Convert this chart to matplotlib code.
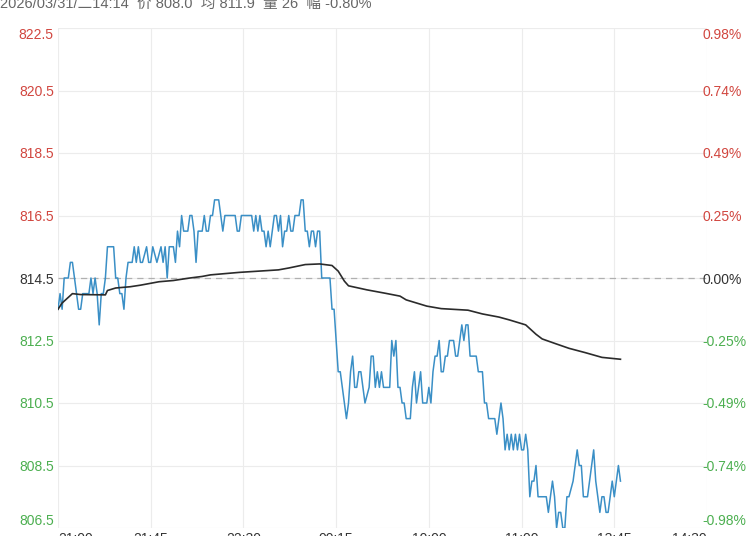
import matplotlib
matplotlib.use('Agg')
import matplotlib.pyplot as plt

plt.rcParams['font.family'] = ['Liberation Sans', 'Noto Sans CJK SC', 'DejaVu Sans']

header = "2026/03/31/二14:14  价 808.0  均 811.9  量 26  幅 -0.80%"
base_price = 814.5

x_tick_pos = [0, 45, 90, 135, 180, 225, 270, 315]
x_tick_labels = ["21:00", "21:45", "22:30", "00:15", "10:00", "11:00", "13:45", "14:30"]

y_ticks = [806.5, 808.5, 810.5, 812.5, 814.5, 816.5, 818.5, 820.5, 822.5]
y_left_labels = ["806.5", "808.5", "810.5", "812.5", "814.5", "816.5", "818.5", "820.5", "822.5"]
y_right_labels = ["-0.98%", "-0.74%", "-0.49%", "-0.25%", "0.00%", "0.25%", "0.49%", "0.74%", "0.98%"]

# last-price line: minute index from 21:00 and price
price_min = [0, 1, 2, 3, 5, 6, 7, 8, 9, 10, 11, 12, 15, 16, 17, 18, 19, 20, 21, 22,
             23, 24, 27, 28, 29, 30, 31, 32, 33, 34, 36, 37, 38, 39, 40, 41, 43, 44, 45, 46,
             48, 50, 51, 52, 53, 54, 56, 57, 58, 59, 60, 61, 63, 64, 65, 66, 67, 68, 70, 71,
             72, 73, 74, 75, 76, 78, 79, 80, 81, 86, 87, 88, 89, 94, 95, 96, 97, 98, 99, 100,
             101, 102, 103, 104, 105, 106, 107, 108, 109, 110, 111, 112, 113, 114, 115, 116, 117, 118, 119, 120,
             121, 122, 123, 124, 125, 126, 127, 128, 132, 133, 134, 135, 136, 137, 138, 139, 140, 141, 142, 143,
             144, 145, 146, 147, 148, 149, 151, 152, 153, 154, 155, 156, 157, 158, 161, 162, 163, 164, 165, 166,
             167, 168, 169, 171, 172, 173, 174, 175, 176, 177, 179, 180, 181, 182, 183, 184, 185, 186, 187, 188,
             189, 190, 192, 193, 194, 195, 196, 197, 198, 199, 200, 203, 204, 206, 207, 208, 209, 212, 213, 214,
             215, 216, 217, 218, 219, 220, 221, 222, 223, 224, 225, 226, 227, 228, 229, 230, 231, 232, 233, 237,
             238, 239, 240, 241, 242, 243, 244, 245, 246, 247, 248, 250, 251, 252, 253, 254, 255, 257, 258, 259,
             260, 261, 262, 263, 264, 265, 266, 267, 268, 269, 270, 271, 272, 273]
price_val = [813.5, 814.0, 813.5, 814.5, 814.5, 815.0, 815.0, 814.5, 814.0, 813.5, 813.5, 814.0, 814.0, 814.5, 814.0, 814.5, 814.0, 813.0, 814.0, 814.0,
             814.5, 815.5, 815.5, 814.5, 814.5, 814.0, 814.0, 813.5, 814.5, 815.0, 815.0, 815.5, 815.0, 815.5, 815.0, 815.0, 815.5, 815.0, 815.0, 815.5,
             815.0, 815.5, 815.0, 815.5, 814.5, 815.5, 815.5, 815.0, 816.0, 815.5, 816.5, 816.0, 816.0, 816.5, 816.5, 816.0, 815.0, 816.0, 816.0, 816.5,
             816.0, 816.0, 816.5, 816.5, 817.0, 817.0, 816.5, 816.0, 816.5, 816.5, 816.0, 816.0, 816.5, 816.5, 816.0, 816.5, 816.0, 816.5, 816.0, 816.0,
             815.5, 816.0, 815.5, 816.0, 816.5, 816.5, 816.0, 816.5, 815.5, 816.0, 816.0, 816.5, 816.0, 816.0, 816.5, 816.5, 816.5, 817.0, 817.0, 816.0,
             816.0, 815.5, 816.0, 816.0, 815.5, 816.0, 816.0, 814.5, 814.5, 813.5, 813.5, 812.5, 811.5, 811.5, 811.0, 810.5, 810.0, 810.5, 811.5, 812.0,
             811.0, 811.0, 811.5, 811.5, 811.0, 810.5, 811.0, 812.0, 812.0, 811.0, 811.5, 811.0, 811.5, 811.0, 811.0, 812.5, 812.0, 812.5, 811.0, 811.0,
             810.5, 810.5, 810.0, 810.0, 811.0, 811.5, 810.5, 811.0, 811.5, 810.5, 810.5, 811.0, 810.5, 811.5, 812.0, 812.0, 812.5, 811.5, 811.5, 812.0,
             812.0, 812.5, 812.5, 812.0, 812.0, 812.5, 813.0, 812.5, 813.0, 813.0, 812.0, 812.0, 811.5, 811.5, 810.5, 810.5, 810.0, 810.0, 809.5, 810.0,
             810.5, 810.0, 809.0, 809.5, 809.0, 809.5, 809.0, 809.5, 809.0, 809.5, 809.0, 809.0, 809.5, 809.0, 807.5, 808.0, 808.0, 808.5, 807.5, 807.5,
             807.0, 807.5, 808.0, 807.5, 806.5, 807.0, 807.0, 806.5, 806.5, 807.5, 807.5, 808.0, 808.5, 809.0, 808.5, 808.5, 807.5, 807.5, 808.0, 808.5,
             809.0, 808.0, 807.5, 807.0, 807.5, 807.5, 807.0, 807.0, 807.5, 808.0, 807.5, 808.0, 808.5, 808.0]

# average-price line
avg_min = [0, 2, 7, 11, 23, 24, 28, 35, 40, 49, 56, 64, 70, 74, 88, 107, 112, 120, 127, 133,
           136, 139, 141, 150, 159, 166, 169, 179, 186, 199, 206, 214, 219, 227, 232, 235, 241, 248, 256, 264, 273]
avg_val = [813.5, 813.7, 814.0, 813.97, 813.96, 814.1, 814.18, 814.22, 814.27, 814.38, 814.42, 814.5, 814.55, 814.6, 814.68,
           814.76, 814.82, 814.93, 814.95, 814.9, 814.72, 814.4, 814.25, 814.12, 814.01, 813.92, 813.8, 813.6, 813.52, 813.47,
           813.35, 813.25, 813.16, 813.0, 812.7, 812.55, 812.41, 812.25, 812.11, 811.96, 811.9]

RED = '#d1463f'
GREEN = '#4caf50'
DARK = '#333333'

fig = plt.figure(figsize=(7.5, 5.36), dpi=100)
ax = fig.add_axes([58 / 750, 8 / 536, 649 / 750, 500 / 536])

ax.plot(price_min, price_val, color='#3a8fc6', lw=1.1, zorder=3)
ax.plot(avg_min, avg_val, color='#2b2b2b', lw=1.2, zorder=4)
ax.axhline(base_price, color='#b0b0b0', lw=0.9, ls=(0, (5, 4)), zorder=2)

ax.set_xlim(x_tick_pos[0], x_tick_pos[-1])
ax.set_ylim(y_ticks[0], y_ticks[-1])
ax.set_xticks(x_tick_pos)
ax.set_xticklabels(x_tick_labels)
ax.set_yticks(y_ticks)
ax.set_yticklabels(y_left_labels)
ax.grid(True, color='#ececec', lw=0.8, zorder=0)
for s in ax.spines.values():
    s.set_visible(False)
ax.tick_params(axis='both', length=0, labelsize=10)
ax.tick_params(axis='y', pad=3)
ax.tick_params(axis='x', pad=3, colors='#333333')

def col(v):
    if v > base_price:
        return RED
    if v < base_price:
        return GREEN
    return DARK

for lbl, v in zip(ax.get_yticklabels(), y_ticks):
    lbl.set_color(col(v))
ylbls = ax.get_yticklabels()
ylbls[0].set_va('bottom')
ylbls[-1].set_va('top')

xl = ax.get_xticklabels()
xl[0].set_ha('left')
xl[-1].set_ha('right')

ax2 = ax.twinx()
ax2.set_ylim(y_ticks[0], y_ticks[-1])
ax2.set_yticks(y_ticks)
ax2.set_yticklabels(y_right_labels)
for s in ax2.spines.values():
    s.set_visible(False)
ax2.tick_params(axis='y', length=0, labelsize=10, pad=-3)
rl = ax2.get_yticklabels()
for lbl, v in zip(rl, y_ticks):
    lbl.set_color(col(v))
rl[0].set_va('bottom')
rl[-1].set_va('top')

fig.text(0.0, 1 - 8.3 / 536, header, fontsize=10.5, color='#666666', va='baseline', ha='left')

fig.savefig('out.png', dpi=100)
